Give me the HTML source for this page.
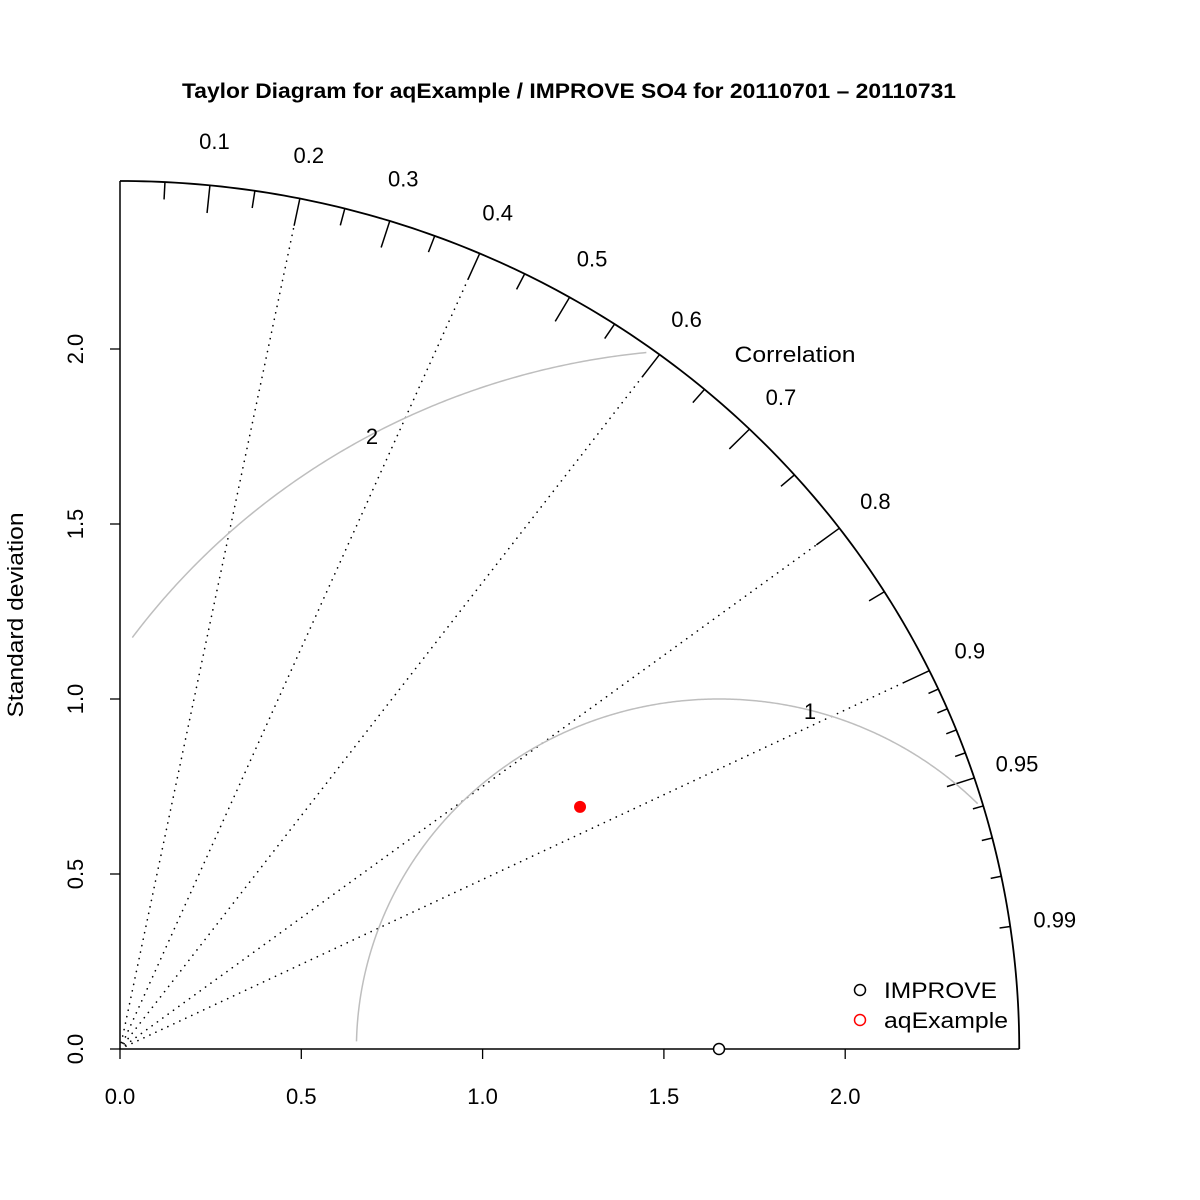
<!DOCTYPE html>
<html><head><meta charset="utf-8"><style>
html,body{margin:0;padding:0;background:#fff;}
svg{display:block;font-family:"Liberation Sans",Arial,sans-serif;}
</style></head><body>
<svg id="chart" width="1200" height="1200" viewBox="0 0 1200 1200">
<text x="569" y="98" text-anchor="middle" font-size="21" font-weight="bold" textLength="774" lengthAdjust="spacingAndGlyphs">Taylor Diagram for aqExample / IMPROVE SO4 for 20110701 – 20110731</text>
<text transform="translate(23,615) rotate(-90)" text-anchor="middle" font-size="22" textLength="205" lengthAdjust="spacingAndGlyphs">Standard deviation</text>
<text x="795" y="362" text-anchor="middle" font-size="22" textLength="121" lengthAdjust="spacingAndGlyphs">Correlation</text>
<g id="legend">
<circle cx="860" cy="990" r="5.5" fill="none" stroke="#000" stroke-width="1.5"/>
<text x="884" y="998" font-size="22" textLength="113" lengthAdjust="spacingAndGlyphs">IMPROVE</text>
<circle cx="860" cy="1020" r="5.5" fill="none" stroke="#f00" stroke-width="1.5"/>
<text x="884" y="1028" font-size="22" textLength="124" lengthAdjust="spacingAndGlyphs">aqExample</text>
</g>
</svg>
<script>
const xTicks = [0, 0.5, 1.0, 1.5, 2.0];
const xTickLabels = ["0.0", "0.5", "1.0", "1.5", "2.0"];
const yTicks = [0, 0.5, 1.0, 1.5, 2.0];
const yTickLabels = ["0.0", "0.5", "1.0", "1.5", "2.0"];
const corBigTicks = [0.1,0.2,0.3,0.4,0.5,0.6,0.7,0.8,0.9,0.95];
const corLabelValues = [0.1,0.2,0.3,0.4,0.5,0.6,0.7,0.8,0.9,0.95,0.99];
const corLabels = ["0.1","0.2","0.3","0.4","0.5","0.6","0.7","0.8","0.9","0.95","0.99"];
const corMedTicks = [0.05,0.15,0.25,0.35,0.45,0.55,0.65,0.75,0.85];
const corSmallTicks = [0.91,0.92,0.93,0.94,0.96,0.97,0.98,0.99];
const corLines = [0.2,0.4,0.6,0.8,0.9];
const rmsArcs = [1, 2];
const maxSd = 2.48;
const refSd = 1.652;
const modelSd = 1.445;
const modelCor = 0.878;

const svg = document.getElementById('chart');
const NS = 'http://www.w3.org/2000/svg';
const X = v => 120 + v * 362.6;
const Y = v => 1049 - v * 350;
function mk(tag, attrs, parent) {
  const e = document.createElementNS(NS, tag);
  for (const k in attrs) e.setAttribute(k, attrs[k]);
  (parent || svg).appendChild(e);
  return e;
}
function polar(r, c) { const a = Math.acos(c); return [X(r*Math.cos(a)), Y(r*Math.sin(a))]; }

let d = '';
for (let i = 0; i <= 180; i++) { const a = Math.PI/2 * i/180; d += (i?'L':'M') + X(maxSd*Math.cos(a)).toFixed(2) + ',' + Y(maxSd*Math.sin(a)).toFixed(2); }
const outer = mk('path', {d: d, fill: 'none', stroke: '#000', 'stroke-width': 1.8});



const xa = mk('line', {x1: X(0), y1: Y(0), x2: X(maxSd), y2: Y(0), stroke: '#000', 'stroke-width': 1.5});


const ya = mk('line', {x1: X(0), y1: Y(0), x2: X(0), y2: Y(maxSd), stroke: '#000', 'stroke-width': 1.5});


xTicks.forEach((v, i) => {
  const t = mk('line', {x1: X(v), y1: Y(0), x2: X(v), y2: Y(0)+10, stroke: '#000', 'stroke-width': 1.3});
  
  
  const l = mk('text', {x: X(v), y: 1104, 'text-anchor': 'middle', 'font-size': 22});
  l.textContent = xTickLabels[i];
  
  
});
yTicks.forEach((v, i) => {
  const t = mk('line', {x1: X(0), y1: Y(v), x2: X(0)-10, y2: Y(v), stroke: '#000', 'stroke-width': 1.3});
  
  
  const l = mk('text', {transform: 'translate(83,' + Y(v) + ') rotate(-90)', 'text-anchor': 'middle', 'font-size': 22});
  l.textContent = yTickLabels[i];
  
  
});

corLines.forEach(c => {
  const [x1, y1] = polar(0, c), [x2, y2] = polar(maxSd*0.97, c);
  const l = mk('line', {x1, y1, x2, y2, stroke: '#000', 'stroke-width': 1.6, 'stroke-dasharray': '0.1 6.5', 'stroke-linecap': 'round'});
  
  
});

function tick(c, f, name) {
  const [x1, y1] = polar(maxSd*f, c), [x2, y2] = polar(maxSd, c);
  const l = mk('line', {x1, y1, x2, y2, stroke: '#000', 'stroke-width': 1.5});
  
  
}
corBigTicks.forEach(c => tick(c, 0.968, 'correlation-major-tick'));
corMedTicks.forEach(c => tick(c, 0.98, 'correlation-medium-tick'));
corSmallTicks.forEach(c => tick(c, 0.988, 'correlation-minor-tick'));
corLabelValues.forEach((c, i) => {
  const [x, y] = polar(maxSd*1.05, c);
  const l = mk('text', {x: x, y: y+7, 'text-anchor': 'middle', 'font-size': 22});
  l.textContent = corLabels[i];
  
  
});

rmsArcs.forEach(r => {
  let p = '', started = false;
  for (let i = 0; i <= 720; i++) {
    const a = Math.PI * i/720;
    const vx = refSd + r*Math.cos(a), vy = r*Math.sin(a);
    if (vx < 0.03 || Math.hypot(vx, vy) > maxSd*0.995 || vy < 0.02) continue;
    p += (started?'L':'M') + X(vx).toFixed(2) + ',' + Y(vy).toFixed(2);
    started = true;
  }
  const arc = mk('path', {d: p, fill: 'none', stroke: '#bebebe', 'stroke-width': 1.5});
  
  
});
[[1, 810, 719], [2, 372, 444]].forEach(([r, x, y]) => {
  const l = mk('text', {x, y, 'text-anchor': 'middle', 'font-size': 22});
  l.textContent = String(r);
  
  
});

const ref = mk('circle', {cx: X(refSd), cy: Y(0), r: 5.5, fill: '#fff', stroke: '#000', 'stroke-width': 1.5});


const [mx, my] = polar(modelSd, modelCor);
const mp = mk('circle', {cx: mx, cy: my, r: 6, fill: '#f00'});


</script>
</body></html>
